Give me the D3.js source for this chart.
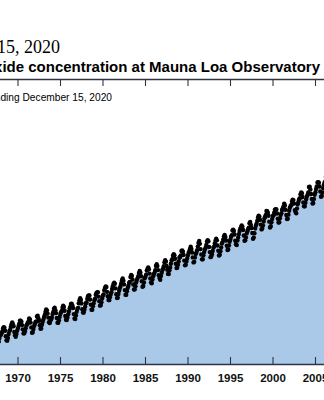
<!DOCTYPE html>
<html>
<head>
<meta charset="utf-8">
<script src="https://cdn.jsdelivr.net/npm/d3@7"></script>
<style>
  html, body { margin: 0; padding: 0; background: #fff; overflow: hidden; }
  svg { display: block; }
</style>
</head>
<body>
<div id="chart"></div>
<script>
// monthly CO2 (ppm), one row per year, Jan..Dec
var years = [1967, 1968, 1969, 1970, 1971, 1972, 1973, 1974, 1975, 1976,
  1977, 1978, 1979, 1980, 1981, 1982, 1983, 1984, 1985, 1986,
  1987, 1988, 1989, 1990, 1991, 1992, 1993, 1994, 1995, 1996,
  1997, 1998, 1999, 2000, 2001, 2002, 2003, 2004, 2005, 2006]
var monthly = [
  [322.27, 322.78, 323.45, 324.48, 325.21, 324.80, 323.46, 321.24, 319.77, 319.90, 321.26, 322.51],
  [322.57, 323.15, 323.89, 325.02, 325.57, 325.36, 324.14, 322.03, 320.41, 320.25, 321.31, 322.84],
  [324.00, 324.42, 325.64, 326.66, 327.38, 326.70, 325.89, 323.67, 322.38, 321.78, 322.85, 324.12],
  [325.03, 325.99, 326.87, 328.13, 328.07, 327.66, 326.35, 324.69, 323.10, 323.16, 323.98, 325.13],
  [326.17, 326.68, 327.18, 327.78, 328.92, 328.57, 327.34, 325.46, 323.36, 323.57, 324.80, 326.01],
  [326.77, 327.63, 327.75, 329.72, 330.07, 329.09, 328.05, 326.32, 324.93, 325.06, 326.50, 327.55],
  [328.54, 329.56, 330.30, 331.50, 332.48, 332.07, 330.87, 329.31, 327.51, 327.18, 328.16, 328.64],
  [329.35, 330.71, 331.48, 332.65, 333.20, 332.16, 331.07, 329.12, 327.32, 327.28, 328.30, 329.58],
  [330.73, 331.46, 331.90, 333.17, 333.94, 333.45, 331.97, 329.95, 328.50, 328.34, 329.37, 330.58],
  [331.59, 332.75, 333.52, 334.64, 334.77, 334.00, 333.06, 330.68, 328.95, 328.75, 330.15, 331.62],
  [332.66, 333.13, 334.95, 336.13, 336.93, 336.17, 334.88, 332.56, 331.29, 331.27, 332.41, 333.60],
  [334.95, 335.25, 336.66, 337.69, 338.03, 338.01, 336.41, 334.41, 332.37, 332.41, 333.75, 334.90],
  [336.14, 336.69, 338.27, 338.95, 339.21, 339.26, 337.54, 335.75, 333.98, 334.19, 335.31, 336.81],
  [337.90, 338.34, 340.01, 340.93, 341.48, 341.33, 339.40, 337.70, 336.19, 336.15, 337.27, 338.32],
  [339.29, 340.55, 341.61, 342.53, 343.03, 342.54, 340.78, 338.44, 336.95, 337.08, 338.58, 339.88],
  [340.96, 341.73, 342.81, 343.97, 344.63, 343.79, 342.32, 340.09, 338.28, 338.29, 339.60, 340.90],
  [341.68, 342.90, 343.33, 345.25, 346.03, 345.63, 344.19, 342.27, 340.35, 340.38, 341.59, 343.05],
  [344.10, 344.79, 345.52, 346.84, 347.63, 346.97, 345.53, 343.55, 341.40, 341.67, 343.10, 344.70],
  [345.21, 346.16, 347.74, 348.34, 348.93, 348.25, 346.56, 344.67, 343.09, 342.80, 344.24, 345.56],
  [346.30, 346.95, 347.85, 349.55, 350.21, 349.55, 347.94, 345.90, 344.85, 344.17, 345.66, 346.90],
  [348.02, 348.47, 349.42, 350.99, 351.84, 351.25, 349.52, 348.10, 346.44, 346.36, 347.81, 348.96],
  [350.43, 351.72, 352.22, 353.59, 354.22, 353.79, 352.39, 350.44, 348.72, 348.88, 350.07, 351.34],
  [352.76, 353.07, 353.68, 355.42, 355.67, 355.13, 353.90, 351.67, 349.80, 349.99, 351.30, 352.53],
  [353.66, 354.70, 355.39, 356.20, 357.16, 356.22, 354.82, 352.91, 350.96, 351.18, 352.83, 354.21],
  [354.72, 355.75, 357.16, 358.60, 359.34, 358.24, 356.17, 354.03, 352.16, 352.21, 353.75, 354.99],
  [355.98, 356.72, 357.81, 359.15, 359.66, 359.25, 357.02, 355.00, 353.01, 353.31, 354.16, 355.40],
  [356.70, 357.16, 358.38, 359.46, 360.28, 359.60, 357.57, 355.52, 353.69, 353.99, 355.34, 356.80],
  [358.37, 358.91, 359.97, 361.26, 361.69, 360.94, 359.55, 357.49, 355.84, 356.00, 357.58, 359.04],
  [359.97, 361.00, 361.64, 363.45, 363.79, 363.26, 361.90, 359.46, 358.06, 357.75, 359.56, 360.70],
  [362.05, 363.25, 364.03, 364.72, 365.41, 364.97, 363.65, 361.49, 359.46, 359.60, 360.76, 362.33],
  [363.18, 364.00, 364.57, 366.35, 366.79, 365.62, 364.47, 362.51, 360.19, 360.77, 362.43, 364.28],
  [365.32, 366.15, 367.31, 368.61, 369.29, 368.87, 367.64, 365.77, 363.90, 364.23, 365.46, 366.97],
  [368.15, 368.87, 369.59, 371.14, 371.00, 370.35, 369.27, 366.94, 364.63, 365.12, 366.67, 368.01],
  [369.14, 369.46, 370.52, 371.66, 371.82, 371.70, 370.12, 368.12, 366.62, 366.73, 368.29, 369.53],
  [370.28, 371.50, 372.12, 372.87, 374.02, 373.30, 371.62, 369.55, 367.96, 368.09, 369.68, 371.24],
  [372.44, 373.08, 373.52, 374.85, 375.55, 375.40, 374.02, 371.48, 370.71, 370.24, 372.08, 373.78],
  [374.68, 375.62, 376.11, 377.65, 378.35, 378.13, 376.62, 374.50, 372.99, 373.00, 374.35, 375.70],
  [376.79, 377.37, 378.41, 380.52, 380.63, 379.57, 377.79, 375.86, 374.06, 374.24, 375.86, 377.48],
  [378.46, 379.73, 380.77, 382.29, 382.45, 382.21, 380.74, 378.74, 376.70, 377.00, 378.35, 380.11],
  [381.38, 382.19, 382.67, 384.61, 385.03, 384.05, 382.46, 380.41, 378.85, 379.13, 380.15, 381.82]
]
var tickYears = [1970, 1975, 1980, 1985, 1990, 1995, 2000, 2005]

var titleText = "Latest reading: December 15, 2020"
var headText = "Carbon dioxide concentration at Mauna Loa Observatory"
var noteText = "Full record ending December 15, 2020"

var width = 324, height = 400
var svg = d3.select("#chart").append("svg")
  .attr("width", width)
  .attr("height", height)

// flatten rows into points, month at mid-month
var data = []
years.forEach(function(yr, i) {
  monthly[i].forEach(function(v, m) {
    data.push({t: yr + (m + 0.5) / 12, v: v})
  })
})

// plot frame is wider than the window, only the middle part shows
var plotTop = 79, plotBottom = 364
var x = d3.scaleLinear().domain([1958, 2021]).range([-84.5, 451])
var y = d3.scaleLinear().domain([311.1, 422.9]).range([plotBottom, plotTop])

var axisColor = "#2e3440"

// filled area under the record
var area = d3.area()
  .x(function(d) { return x(d.t) })
  .y0(plotBottom)
  .y1(function(d) { return y(d.v) })
svg.append("path")
  .datum(data)
  .attr("d", area)
  .attr("fill", "#aac8e7")

svg.append("g")
  .selectAll("circle")
  .data(data)
  .enter().append("circle")
  .attr("cx", function(d) { return x(d.t) })
  .attr("cy", function(d) { return y(d.v) })
  .attr("r", 2.2)
  .attr("fill", "#000")

var minorYears = d3.range(1958, 2022)

// bottom axis, ticks pointing up
var gb = svg.append("g").attr("transform", "translate(0," + plotBottom + ")")
gb.call(d3.axisBottom(x).tickValues(minorYears).tickSize(-3).tickFormat(""))
gb.call(d3.axisBottom(x).tickValues(tickYears).tickSize(-7).tickPadding(10)
  .tickFormat(d3.format("d")))
gb.selectAll(".domain").attr("stroke", axisColor).attr("stroke-width", 1.3)
gb.selectAll("line").attr("stroke", axisColor).attr("stroke-width", 1.1)
gb.selectAll("text")
  .attr("fill", "#111")
  .style("font-family", "'Liberation Sans', Arial, sans-serif")
  .style("font-size", "11.5px")
  .style("font-weight", "bold")

// top axis mirrors it, ticks pointing down
var gt = svg.append("g").attr("transform", "translate(0," + plotTop + ")")
gt.call(d3.axisTop(x).tickValues(minorYears).tickSize(-3).tickFormat(""))
gt.call(d3.axisTop(x).tickValues(tickYears).tickSize(-7).tickFormat(""))
gt.selectAll(".domain").attr("stroke", axisColor).attr("stroke-width", 1.3)
gt.selectAll("line").attr("stroke", axisColor).attr("stroke-width", 1.1)

// titles
svg.append("text")
  .attr("x", 60)
  .attr("y", 53)
  .attr("text-anchor", "end")
  .style("font-family", "'Liberation Serif', 'Times New Roman', serif")
  .style("font-size", "18px")
  .attr("fill", "#000")
  .text(titleText)

svg.append("text")
  .attr("x", 320)
  .attr("y", 72)
  .attr("text-anchor", "end")
  .style("font-family", "'Liberation Sans', Arial, sans-serif")
  .style("font-size", "15px")
  .style("font-weight", "bold")
  .attr("fill", "#000")
  .text(headText)

svg.append("text")
  .attr("x", 112)
  .attr("y", 101)
  .attr("text-anchor", "end")
  .style("font-family", "'Liberation Sans', Arial, sans-serif")
  .style("font-size", "10.2px")
  .attr("fill", "#000")
  .text(noteText)
</script>
</body>
</html>
